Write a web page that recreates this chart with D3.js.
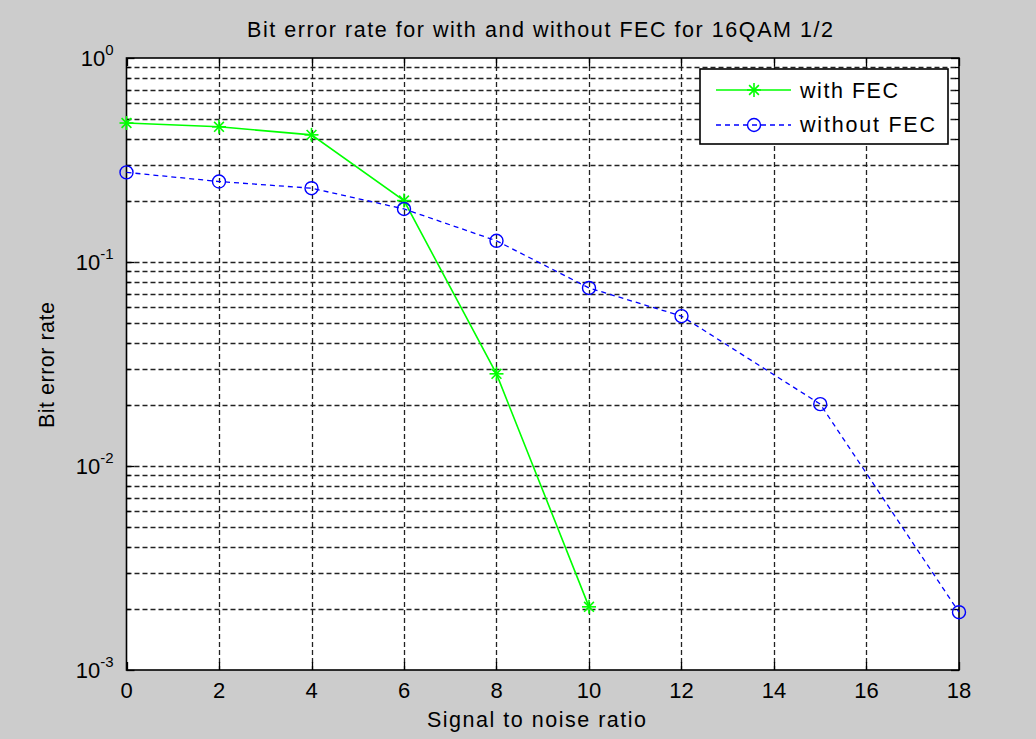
<!DOCTYPE html>
<html><head><meta charset="utf-8">
<script src="https://cdn.jsdelivr.net/npm/d3@7"></script>
<style>body{margin:0;background:#cccccc;} text{font-family:"Liberation Sans",Arial,sans-serif;fill:#000;}</style>
</head><body>
<svg id="c" width="1036" height="739"></svg>
<script>
const snr = [0, 2, 4, 6, 8, 10];
const withFEC = [0.48, 0.46, 0.42, 0.20, 0.0283, 0.00204];
const snrNo = [0, 2, 4, 6, 8, 10, 12, 15, 18];
const withoutFEC = [0.275, 0.248, 0.23, 0.182, 0.127, 0.0746, 0.0543, 0.0201, 0.00192];
const xTicks = [0, 2, 4, 6, 8, 10, 12, 14, 16, 18];
const yDecades = [-3, -2, -1, 0];
const title = "Bit error rate for with and without FEC for 16QAM 1/2";
const xLabel = "Signal to noise ratio";
const yLabel = "Bit error rate";
const seriesNames = ["with FEC", "without FEC"];

const svg = d3.select("#c");
svg.append("rect").attr("width",1036).attr("height",739).attr("fill","#cccccc");
const L=126.5, R=959, T=58, B=670;
const x = d3.scaleLinear().domain([0,18]).range([L,R]);
const y = d3.scaleLog().domain([1e-3,1]).range([B,T]);
svg.append("rect").attr("x",L).attr("y",T).attr("width",R-L).attr("height",B-T).attr("fill","#fff");

const minors=[];
yDecades.slice(0,3).forEach(d=>{for(let k=2;k<=9;k++) minors.push(k*Math.pow(10,d));});
const g = svg.append("g");
g.selectAll(".gx").data(xTicks.slice(1,-1)).join("line")
 .attr("x1",d=>Math.round(x(d))+0.5).attr("x2",d=>Math.round(x(d))+0.5).attr("y1",T).attr("y2",B)
 .attr("stroke","#222").attr("stroke-width",1.3).attr("stroke-dasharray","5,3");
g.selectAll(".gy").data(minors.concat([1e-2,1e-1])).join("line")
 .attr("x1",L).attr("x2",R).attr("y1",d=>Math.round(y(d))+0.5).attr("y2",d=>Math.round(y(d))+0.5)
 .attr("stroke","#222").attr("stroke-width",1.3).attr("stroke-dasharray","5,3");
const tk = svg.append("g").attr("stroke","#000").attr("stroke-width",1.3);
xTicks.forEach(d=>{
  const xx=Math.round(x(d))+0.5;
  tk.append("line").attr("x1",xx).attr("x2",xx).attr("y1",B).attr("y2",B-8);
  tk.append("line").attr("x1",xx).attr("x2",xx).attr("y1",T).attr("y2",T+8);
});
yDecades.forEach(d=>{
  const yy=Math.round(y(Math.pow(10,d)))+0.5;
  tk.append("line").attr("x1",L).attr("x2",L+8).attr("y1",yy).attr("y2",yy);
  tk.append("line").attr("x1",R).attr("x2",R-8).attr("y1",yy).attr("y2",yy);
});
minors.forEach(v=>{
  const yy=Math.round(y(v))+0.5;
  tk.append("line").attr("x1",L).attr("x2",L+4).attr("y1",yy).attr("y2",yy);
  tk.append("line").attr("x1",R).attr("x2",R-4).attr("y1",yy).attr("y2",yy);
});
svg.append("rect").attr("x",L).attr("y",T).attr("width",R-L).attr("height",B-T)
 .attr("fill","none").attr("stroke","#000").attr("stroke-width",1.6);

svg.selectAll(".xl").data(xTicks).join("text").attr("x",d=>x(d)).attr("y",698)
 .attr("text-anchor","middle").attr("font-size",22).text(d=>d);
yDecades.forEach(d=>{
  const t = svg.append("text").attr("x",L-13).attr("y",y(Math.pow(10,d))+8).attr("text-anchor","end").attr("font-size",22);
  t.append("tspan").text("10");
  t.append("tspan").attr("dy",-11).attr("font-size",15).text(String(d));
});
svg.append("text").attr("x",540).attr("y",37).attr("text-anchor","middle").attr("font-size",21.5)
 .attr("textLength",586).attr("lengthAdjust","spacing").text(title);
svg.append("text").attr("x",536.5).attr("y",727).attr("text-anchor","middle").attr("font-size",21.5)
 .attr("textLength",219).attr("lengthAdjust","spacing").text(xLabel);
svg.append("text").attr("transform",`translate(54,365) rotate(-90)`).attr("text-anchor","middle").attr("font-size",21.5)
 .attr("textLength",126).attr("lengthAdjust","spacing").text(yLabel);

const line = (xs)=>d3.line().x((d,i)=>x(xs[i])).y(d=>y(d));
svg.append("path").datum(withFEC).attr("d",line(snr)).attr("fill","none").attr("stroke","#00ff00").attr("stroke-width",1.6);
svg.append("path").datum(withoutFEC).attr("d",line(snrNo)).attr("fill","none").attr("stroke","#0000ff").attr("stroke-width",1.3).attr("stroke-dasharray","5,4");
function star(sel,cx,cy,s){
  const gg=sel.append("g").attr("stroke","#00ff00").attr("stroke-width",1.6);
  gg.append("line").attr("x1",cx-s).attr("x2",cx+s).attr("y1",cy).attr("y2",cy);
  gg.append("line").attr("x1",cx).attr("x2",cx).attr("y1",cy-s).attr("y2",cy+s);
  const d=s*0.7;
  gg.append("line").attr("x1",cx-d).attr("x2",cx+d).attr("y1",cy-d).attr("y2",cy+d);
  gg.append("line").attr("x1",cx-d).attr("x2",cx+d).attr("y1",cy+d).attr("y2",cy-d);
}
withFEC.forEach((v,i)=>star(svg,x(snr[i]),y(v),7));
svg.selectAll(".mc").data(withoutFEC).join("circle").attr("cx",(d,i)=>x(snrNo[i])).attr("cy",d=>y(d)).attr("r",6.5)
 .attr("fill","none").attr("stroke","#0000ff").attr("stroke-width",1.4);

const lg=svg.append("g");
lg.append("rect").attr("x",700).attr("y",69).attr("width",248).attr("height",75).attr("fill","#fff").attr("stroke","#000").attr("stroke-width",1.6);
lg.append("line").attr("x1",716).attr("x2",791).attr("y1",90).attr("y2",90).attr("stroke","#00ff00").attr("stroke-width",1.6);
star(lg,754,90,7);
lg.append("line").attr("x1",716).attr("x2",791).attr("y1",125).attr("y2",125).attr("stroke","#0000ff").attr("stroke-width",1.3).attr("stroke-dasharray","5,4");
lg.append("circle").attr("cx",754).attr("cy",125).attr("r",6.5).attr("fill","none").attr("stroke","#0000ff").attr("stroke-width",1.4);
lg.append("text").attr("x",800).attr("y",98).attr("font-size",21.5).attr("textLength",98).attr("lengthAdjust","spacing").text(seriesNames[0]);
lg.append("text").attr("x",800).attr("y",132).attr("font-size",21.5).attr("textLength",135).attr("lengthAdjust","spacing").text(seriesNames[1]);
</script>
</body></html>
